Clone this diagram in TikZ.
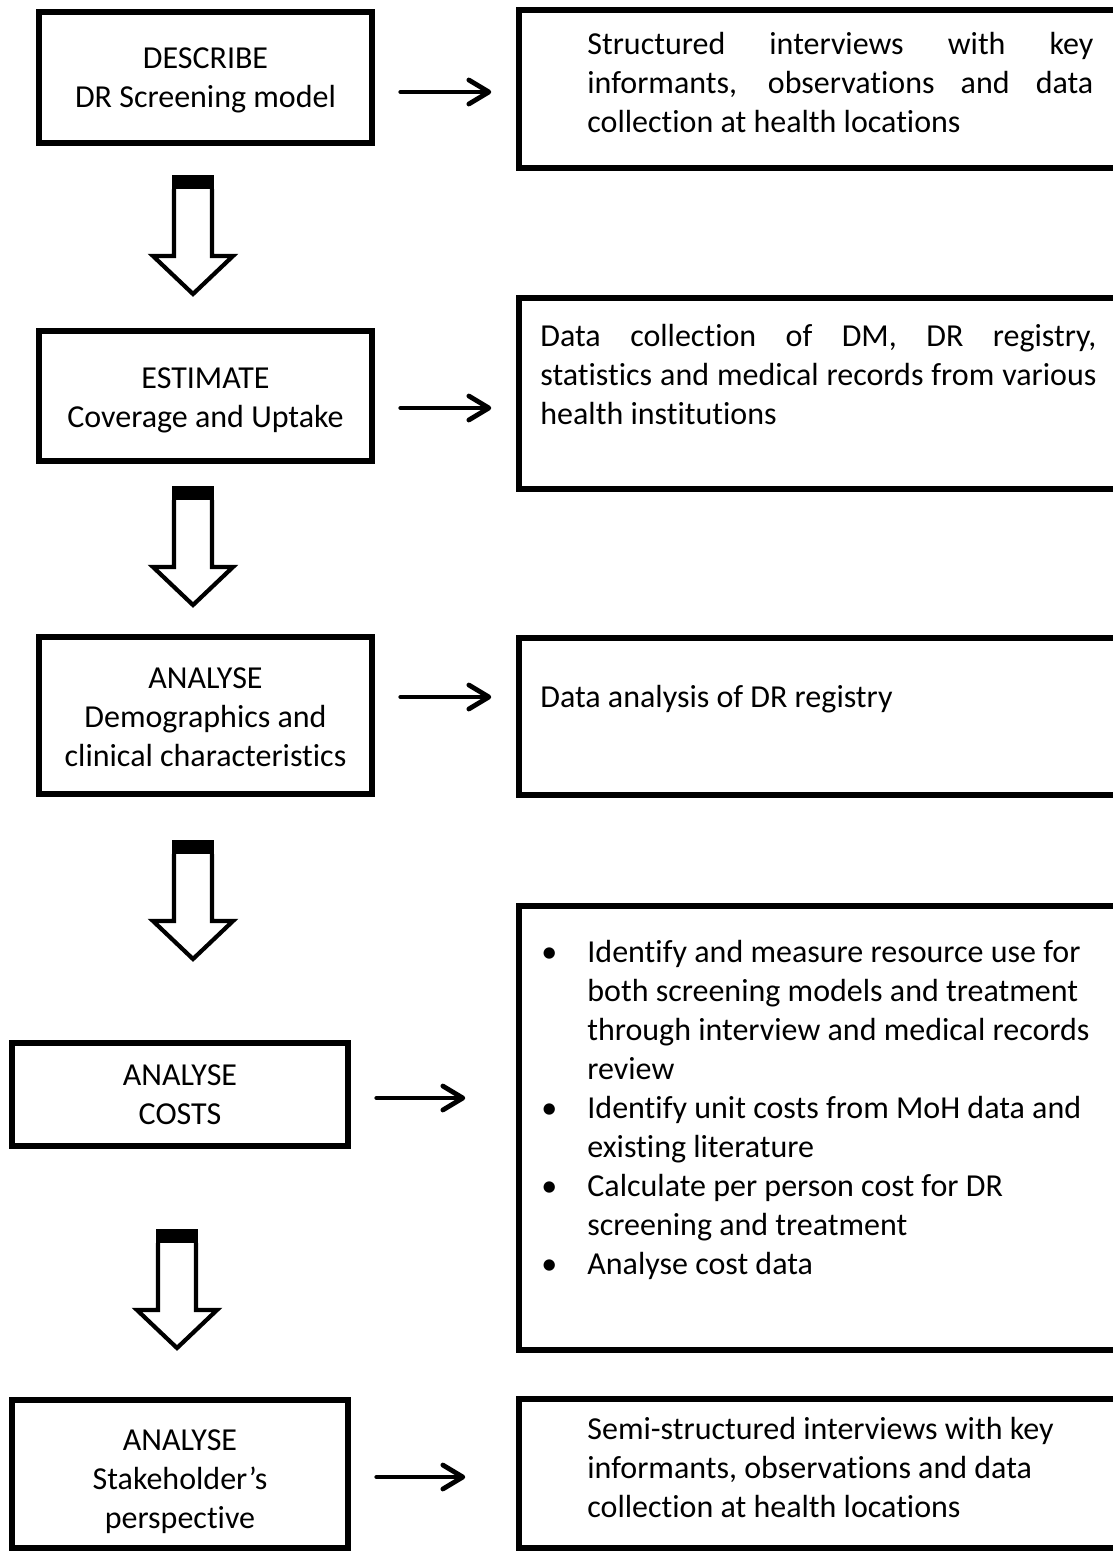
\documentclass[tikz,border=0pt]{standalone}
\usepackage{fontspec}
\setmainfont{Carlito}[Ligatures={NoCommon,NoContextual}]
\usetikzlibrary{arrows.meta,fit}
\begin{document}
\begin{tikzpicture}[x=0.5pt,y=-0.5pt,
  box/.style={draw=black, line width=2.75pt, inner sep=0pt},
  lbl/.style={inner sep=0pt, font=\fontsize{16pt}{19.5pt}\selectfont},
  link/.style={line width=2.4pt, line cap=round,
    -{Straight Barb[length=10pt,width=12pt,round]}},
  hollowdown/.pic={
    \fill[black] (-21,0) rectangle (21,16);
    \draw[line width=2.1pt, line join=miter, fill=white]
      (-19,14) -- (-19,81) -- (-40,81) -- (0,119) -- (40,81) -- (19,81) -- (19,14);
  }]
% page frame
\useasboundingbox (0,0) rectangle (1113,1559);
\fill[white] (0,0) rectangle (1113,1559);
\clip (0,0) rectangle (1113,1559);

% left column: study steps
\node[box, fit={(39,12) (372,143)}] (describe) {};
\node[box, fit={(39,331) (372,461)}] (estimate) {};
\node[box, fit={(39,637) (372,794)}] (demog) {};
\node[box, fit={(12,1043) (348,1146)}] (costs) {};
\node[box, fit={(12,1400) (348,1548)}] (stake) {};

\node[lbl, anchor=base] (describe-t) at (205.5,68.5)
  {\parbox[t]{160pt}{\centering DESCRIBE\\DR Screening model}};
\node[lbl, anchor=base] (estimate-t) at (205.5,388)
  {\parbox[t]{160pt}{\centering ESTIMATE\\Coverage and Uptake}};
\node[lbl, anchor=base] (demog-t) at (205.5,688)
  {\parbox[t]{160pt}{\centering ANALYSE\\Demographics and\\clinical characteristics}};
\node[lbl, anchor=base] (costs-t) at (180,1085)
  {\parbox[t]{160pt}{\centering ANALYSE\\COSTS}};
\node[lbl, anchor=base] (stake-t) at (180,1450)
  {\parbox[t]{160pt}{\centering ANALYSE\\Stakeholder’s\\perspective}};

% right column: methods
\node[box, fit={(519,10) (1140,168)}] (m1) {};
\node[box, fit={(519,298) (1140,489)}] (m2) {};
\node[box, fit={(519,638) (1140,795)}] (m3) {};
\node[box, fit={(519,906) (1140,1350)}] (m4) {};
\node[box, fit={(519,1399) (1140,1548)}] (m5) {};

\node[lbl, anchor=base west] (m1-t) at (587,54.5)
  {\parbox[t]{253pt}{\makebox[253pt][s]{Structured interviews with key}\\
   \makebox[253pt][s]{informants, observations and data}\\
   collection at health locations}};
\node[lbl, anchor=base west] (m2-t) at (540,346)
  {\parbox[t]{278pt}{\makebox[278pt][s]{Data collection of DM, DR registry,}\\
   \makebox[278pt][s]{statistics and medical records from various}\\
   health institutions}};
\node[lbl, anchor=base west] (m3-t) at (540,707)
  {Data analysis of DR registry};
\node[lbl, anchor=base west] (m4-t) at (541,962)
  {\parbox[t]{290pt}{%
   \makebox[23pt][l]{\textbullet}Identify and measure resource use for\\
   \hspace*{23pt}both screening models and treatment\\
   \hspace*{23pt}through interview and medical records\\
   \hspace*{23pt}review\\
   \makebox[23pt][l]{\textbullet}Identify unit costs from MoH data and\\
   \hspace*{23pt}existing literature\\
   \makebox[23pt][l]{\textbullet}Calculate per person cost for DR\\
   \hspace*{23pt}screening and treatment\\
   \makebox[23pt][l]{\textbullet}Analyse cost data}};
\node[lbl, anchor=base west] (m5-t) at (587,1439)
  {\parbox[t]{260pt}{Semi-structured interviews with key\\
   informants, observations and data\\
   collection at health locations}};

% step-to-method arrows
\coordinate (a1) at (0,92);
\coordinate (a2) at (0,408);
\coordinate (a3) at (0,697);
\coordinate (a4) at (0,1098);
\coordinate (a5) at (0,1477);
\draw[link, shorten <=13pt, shorten >=12.5pt] (describe.east |- a1) -- (m1.west |- a1);
\draw[link, shorten <=13pt, shorten >=12.5pt] (estimate.east |- a2) -- (m2.west |- a2);
\draw[link, shorten <=13pt, shorten >=12.5pt] (demog.east |- a3) -- (m3.west |- a3);
\draw[link, shorten <=13pt, shorten >=25.5pt] (costs.east |- a4) -- (m4.west |- a4);
\draw[link, shorten <=13pt, shorten >=25.5pt] (stake.east |- a5) -- (m5.west |- a5);

% block arrows between steps
\pic at (193,175) {hollowdown};
\pic at (193,486) {hollowdown};
\pic at (193,840) {hollowdown};
\pic at (177,1229) {hollowdown};
\end{tikzpicture}
\end{document}
